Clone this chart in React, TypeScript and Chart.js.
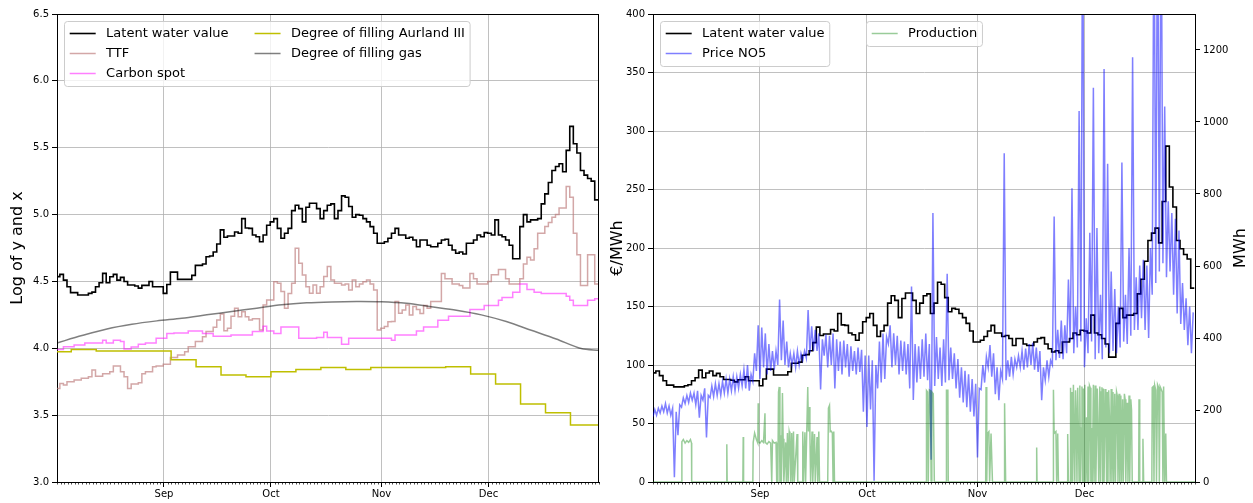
import React, { useEffect, useRef } from "react";
import { Chart, registerables } from "chart.js";

Chart.register(...registerables);

const FONT = "DejaVu Sans";
const W = 1253;
const H = 503;

// ---------- axes / categories ----------
// x is "day number" counted from 1 August (Aug 2 = 1, Sep 1 = 31, ... Jan 1 = 153)
const xMin = 1;
const xMax = 153;
const monthTicks = [31, 61, 92, 122];
const monthLabels = ["Sep", "Oct", "Nov", "Dec"];
const logTicks = [3.0, 3.5, 4.0, 4.5, 5.0, 5.5, 6.0, 6.5];
const eurTicks = [0, 50, 100, 150, 200, 250, 300, 350, 400];
const mwhTicks = [0, 200, 400, 600, 800, 1000, 1200];

// daily series start at this day and advance one day per value
const dailyStart = 0.8;

// ---------- data ----------
// Latent water value, €/MWh (daily)
const latentWaterValue = [
  93.3, 94.9, 90.9, 86.5, 82.8, 82.8, 81.3, 81.3, 81.3, 82.3,
  83.1, 86.5, 89.1, 95.6, 89.1, 93.2, 94.9, 90.9, 92.8, 90.0,
  87.6, 87.6, 87.0, 85.6, 87.4, 87.4, 90.0, 86.5, 86.5, 86.5,
  82.3, 88.0, 96.5, 96.5, 91.4, 91.4, 91.4, 91.4, 94.2, 101.5,
  101.5, 102.5, 108.3, 108.9, 112.2, 119.1, 132.4, 125.2, 126.5, 126.5,
  130.3, 129.0, 144.0, 134.3, 133.9, 127.4, 125.8, 121.1, 127.4, 137.0,
  140.5, 144.0, 133.9, 124.3, 129.0, 133.9, 152.9, 159.2, 155.2, 140.5,
  156.8, 161.6, 161.6, 155.2, 144.0, 152.9, 159.2, 160.8, 144.0, 152.9,
  170.7, 169.0, 157.6, 145.5, 148.4, 147.7, 144.0, 140.5, 135.6, 129.0,
  119.7, 119.7, 121.1, 124.3, 129.0, 133.9, 127.4, 127.4, 124.3, 125.2,
  122.7, 116.7, 122.7, 122.7, 118.0, 116.7, 116.7, 119.7, 122.7, 123.4,
  118.0, 113.9, 111.1, 112.2, 110.5, 119.7, 119.7, 122.7, 127.4, 125.8,
  129.7, 129.0, 127.4, 142.6, 127.4, 125.8, 122.7, 118.0, 106.7, 106.7,
  135.6, 148.4, 140.5, 142.6, 142.6, 144.0, 160.8, 173.3, 188.7, 206.4,
  212.7, 217.0, 204.4, 239.8, 287.1, 252.1, 235.1, 206.4, 199.3, 194.4,
  190.6, 165.7, 165.7,
];

// TTF, log values (daily)
const ttfLog = [
  3.70, 3.737, 3.725, 3.75, 3.75, 3.762, 3.762, 3.775, 3.775, 3.787,
  3.837, 3.79, 3.79, 3.81, 3.81, 3.825, 3.867, 3.867, 3.825, 3.787,
  3.70, 3.732, 3.732, 3.742, 3.81, 3.825, 3.825, 3.862, 3.867, 3.867,
  3.88, 3.88, 3.932, 3.932, 3.95, 3.95, 3.975, 4.012, 4.012, 4.05,
  4.05, 4.087, 4.125, 4.125, 4.157, 4.212, 4.257, 4.132, 4.15, 4.24,
  4.30, 4.236, 4.274, 4.236, 4.212, 4.22, 4.22, 4.137, 4.324, 4.361,
  4.361, 4.498, 4.486, 4.424, 4.30, 4.41, 4.486, 4.748, 4.636, 4.549,
  4.461, 4.411, 4.474, 4.411, 4.461, 4.536, 4.611, 4.511, 4.486, 4.486,
  4.474, 4.48, 4.436, 4.511, 4.461, 4.48, 4.498, 4.511, 4.48, 4.436,
  4.137, 4.15, 4.162, 4.199, 4.20, 4.349, 4.262, 4.287, 4.324, 4.249,
  4.312, 4.29, 4.26, 4.32, 4.30, 4.35, 4.35, 4.35, 4.56, 4.52,
  4.52, 4.48, 4.48, 4.47, 4.45, 4.45, 4.56, 4.52, 4.48, 4.48,
  4.48, 4.50, 4.55, 4.55, 4.59, 4.59, 4.52, 4.48, 4.48, 4.48,
  4.52, 4.63, 4.68, 4.66, 4.745, 4.86, 4.86, 4.91, 4.94, 4.98,
  5.0, 5.05, 5.05, 5.21, 5.13, 4.86, 4.70, 4.47, 4.47, 4.70,
  4.70, 4.48, 4.48,
];

// Carbon spot, log values (daily)
const carbonLog = [
  3.99, 3.99, 4.012, 4.012, 4.012, 4.025, 4.025, 4.025, 4.04, 4.04,
  4.04, 4.04, 4.04, 4.06, 4.04, 4.04, 4.06, 4.06, 4.05, 3.995,
  3.995, 4.01, 4.01, 4.03, 4.03, 4.04, 4.04, 4.04, 4.075, 4.075,
  4.075, 4.11, 4.11, 4.115, 4.115, 4.115, 4.115, 4.13, 4.13, 4.13,
  4.13, 4.11, 4.11, 4.11, 4.09, 4.09, 4.09, 4.09, 4.09, 4.10,
  4.10, 4.10, 4.10, 4.10, 4.10, 4.125, 4.125, 4.125, 4.165, 4.13,
  4.13, 4.11, 4.11, 4.16, 4.16, 4.16, 4.16, 4.16, 4.075, 4.075,
  4.075, 4.075, 4.075, 4.08, 4.08, 4.12, 4.08, 4.08, 4.08, 4.08,
  4.03, 4.03, 4.075, 4.075, 4.075, 4.075, 4.075, 4.075, 4.075, 4.075,
  4.075, 4.075, 4.075, 4.075, 4.06, 4.10, 4.10, 4.10, 4.10, 4.10,
  4.10, 4.13, 4.13, 4.16, 4.16, 4.16, 4.16, 4.21, 4.21, 4.21,
  4.24, 4.24, 4.24, 4.24, 4.24, 4.24, 4.29, 4.29, 4.29, 4.29,
  4.32, 4.32, 4.32, 4.32, 4.36, 4.38, 4.38, 4.38, 4.42, 4.42,
  4.48, 4.48, 4.44, 4.44, 4.42, 4.42, 4.41, 4.41, 4.41, 4.41,
  4.41, 4.41, 4.41, 4.39, 4.36, 4.32, 4.32, 4.32, 4.32, 4.36,
  4.36, 4.37, 4.37,
];

// Degree of filling Aurland III, log values (weekly)
const aurlandDays = [1, 5, 12, 19, 26, 33, 40, 47, 54, 61, 68, 75, 82, 89, 96, 103, 110, 117, 124, 131, 138, 145, 153];
const aurlandLog = [3.975, 3.99, 3.98, 3.98, 3.98, 3.915, 3.862, 3.80, 3.787, 3.825, 3.842, 3.857, 3.842, 3.857, 3.857, 3.857, 3.862, 3.807, 3.733, 3.583, 3.518, 3.426, 3.426];

// Degree of filling gas, log values
const gasDays = [1, 8, 15, 22, 29, 36, 43, 50, 57, 64, 71, 78, 85, 92, 99, 106, 113, 120, 127, 134, 141, 148, 153];
const gasLog = [4.04, 4.095, 4.145, 4.18, 4.205, 4.225, 4.25, 4.275, 4.30, 4.325, 4.34, 4.347, 4.35, 4.348, 4.336, 4.31, 4.285, 4.25, 4.20, 4.135, 4.07, 3.998, 3.985];

// Price NO5, €/MWh: two readings per day (night low, day high), from Aug 2
const priceNO5 = [
  56, 62, 57, 63, 59, 65, 60, 67, 59, 65, 57, 63, 4, 60, 40, 66, 64, 72, 67, 74,
  68, 76, 70, 76, 66, 78, 55, 74, 70, 80, 38, 74, 72, 82, 73, 84, 74, 84, 74, 86,
  76, 88, 76, 88, 78, 90, 78, 90, 80, 92, 82, 96, 80, 100, 78, 92, 86, 110, 95, 134,
  88, 132, 98, 127, 92, 118, 95, 112, 96, 112, 100, 156, 104, 138, 100, 120, 98, 110, 100, 110,
  98, 112, 100, 110, 104, 112, 106, 147, 110, 133, 112, 130, 112, 127, 79, 122, 108, 126, 98, 125,
  100, 127, 80, 122, 95, 120, 92, 121, 98, 118, 90, 116, 95, 112, 92, 115, 94, 113, 60, 108,
  47, 108, 62, 104, 1, 100, 80, 120, 85, 127, 88, 124, 118, 134, 98, 127, 100, 125, 92, 121,
  95, 120, 92, 118, 80, 167, 70, 118, 85, 116, 88, 122, 90, 127, 87, 118, 19, 230, 82, 124,
  88, 115, 82, 122, 85, 178, 87, 115, 88, 110, 80, 105, 72, 98, 68, 95, 64, 92, 60, 88,
  56, 84, 21, 80, 79, 100, 85, 107, 98, 117, 90, 110, 75, 98, 70, 95, 88, 281, 87, 104,
  90, 107, 92, 105, 98, 108, 98, 112, 96, 114, 98, 118, 100, 119, 96, 115, 94, 112, 70, 98,
  87, 104, 90, 104, 100, 227, 104, 130, 106, 138, 105, 134, 110, 173, 120, 251, 110, 150, 115, 317,
  120, 520, 98, 140, 110, 213, 120, 337, 105, 217, 110, 160, 105, 353, 115, 272, 110, 180, 112, 165,
  110, 150, 115, 273, 120, 160, 118, 200, 125, 363, 130, 175, 130, 185, 140, 190, 130, 185, 123, 200,
  160, 520, 170, 520, 180, 520, 187, 321, 175, 240, 180, 230, 160, 225, 144, 215, 135, 170, 130, 157,
  117, 150, 110, 145,
];

// Production, MWh: [day, MWh]
const production: [number, number][] = [
  [1, 0],
  [9.0, 0], [9.1, 112], [9.5, 118], [10.0, 108], [10.5, 115], [11.0, 110], [11.5, 118], [11.8, 108], [11.85, 0],
  [21.6, 0], [21.7, 105], [21.8, 0],
  [26.2, 0], [26.3, 125], [26.4, 0],
  [29.0, 0], [29.1, 110], [29.5, 136], [30.0, 118], [30.4, 108], [30.5, 219], [30.6, 112], [31.0, 108],
  [31.5, 115], [32.0, 110], [32.4, 191], [32.5, 110], [33.0, 105], [33.5, 112], [34.0, 108], [34.3, 0],
  [34.5, 115], [35.0, 108], [35.5, 110], [35.7, 0],
  [36.0, 0], [36.2, 250], [36.4, 264], [36.6, 0], [36.8, 130], [37.0, 0], [37.3, 247], [37.5, 120], [37.7, 0],
  [38.2, 110], [38.4, 0], [38.7, 136], [38.9, 0], [39.2, 140], [39.4, 130], [39.6, 0], [39.9, 136], [40.1, 0],
  [40.4, 140], [40.6, 0], [41.4, 133], [41.6, 0],
  [42.9, 0], [43.0, 140], [43.2, 0], [43.6, 138], [43.8, 0], [44.4, 264], [44.6, 140], [44.8, 208], [45.0, 135],
  [45.2, 0], [45.6, 140], [45.8, 0], [46.3, 133], [46.5, 0], [47.0, 125], [47.2, 0], [47.5, 140], [47.7, 0],
  [50.0, 0], [50.2, 205], [50.5, 213], [50.7, 140], [51.0, 141], [51.3, 136], [51.5, 0], [51.7, 140], [51.9, 0],
  [77.6, 0], [77.7, 254], [78.0, 250], [78.2, 0], [78.5, 256], [78.8, 254], [79.0, 0], [79.2, 250], [79.6, 245], [79.9, 0],
  [83.2, 0], [83.3, 255], [83.7, 255], [83.8, 0],
  [94.3, 0], [94.4, 264], [94.6, 0], [94.8, 135], [95.2, 140], [95.4, 0], [95.8, 135], [96.2, 0],
  [99.5, 0], [99.6, 219], [99.9, 0],
  [108.5, 0], [108.6, 96], [108.7, 0],
  [113.2, 0], [113.3, 256], [113.5, 135], [114.0, 140], [114.2, 0], [114.5, 135], [114.7, 0],
  [117.2, 0], [117.3, 133], [117.5, 0],
  [118.0, 0], [118.1, 262], [118.3, 0], [118.5, 250], [118.7, 0], [118.9, 270], [119.1, 140], [119.3, 0],
  [119.5, 255], [119.7, 180], [119.9, 0], [120.1, 262], [120.3, 140], [120.5, 0], [120.7, 268], [120.9, 0],
  [121.1, 150], [121.3, 265], [121.5, 0], [121.7, 260], [121.9, 0], [122.1, 270], [122.3, 0], [122.6, 180],
  [122.8, 0], [123.0, 265], [123.2, 0], [123.4, 268], [123.6, 262], [123.8, 0], [124.0, 150], [124.2, 0],
  [124.5, 270], [124.7, 0], [125.0, 268], [125.2, 0], [125.4, 137], [125.6, 260], [125.8, 140], [126.0, 0],
  [126.3, 265], [126.5, 0], [126.7, 250], [126.9, 263], [127.1, 0], [127.3, 260], [127.5, 0], [127.8, 258],
  [128.0, 200], [128.2, 0], [128.4, 250], [128.6, 0], [128.8, 255], [129.0, 180], [129.2, 0], [129.5, 258],
  [129.7, 0], [130.0, 250], [130.2, 0], [130.5, 245], [130.7, 0], [131.0, 250], [131.2, 240], [131.4, 0],
  [131.7, 245], [131.9, 0], [132.2, 240], [132.4, 0], [132.7, 230], [132.9, 0], [133.2, 245], [133.4, 230],
  [133.6, 0], [134.0, 220], [134.2, 0], [134.5, 240], [134.7, 0], [135.0, 230], [135.2, 200], [135.4, 0],
  [137.2, 0], [137.3, 230], [137.5, 0], [138.3, 0], [138.4, 120], [138.6, 0],
  [140.9, 0], [141.0, 262], [141.3, 265], [141.5, 0], [141.7, 268], [142.0, 255], [142.2, 0], [142.5, 270],
  [142.8, 262], [143.0, 0], [143.2, 265], [143.5, 258], [143.8, 250], [144.0, 0], [144.2, 265], [144.5, 0],
  [144.8, 135], [145.0, 0],
  [153, 0],
];

// ---------- colours ----------
const C_LWV = "#000000";
const C_TTF = "rgba(188,120,120,0.65)";
const C_CARBON = "rgba(255,0,255,0.5)";
const C_AURLAND = "#bfbf00";
const C_GAS = "rgba(0,0,0,0.5)";
const C_PRICE = "rgba(0,0,255,0.5)";
const C_PROD = "rgba(0,128,0,0.4)";

// ---------- helpers ----------
const daily = (vals: number[]) => vals.map((v, i) => ({ x: dailyStart + i, y: v }));
const paired = (days: number[], vals: number[]) => vals.map((v, i) => ({ x: days[i], y: v }));

type LegendItem = { label: string; color: string; width: number };
type LegendGroup = { align: "left" | "center"; ncol: number; items: LegendItem[] };

function legendPlugin(id: string, groups: LegendGroup[]) {
  return {
    id,
    afterDraw(chart: any) {
      const { ctx, chartArea } = chart;
      const fs = 13;
      const pad = 5.2;
      const hl = 26;
      const htp = 10.4;
      const colsp = 26;
      const rowH = 20;
      ctx.save();
      ctx.font = `${fs}px "${FONT}"`;
      for (const g of groups) {
        const nrow = Math.ceil(g.items.length / g.ncol);
        const cols: LegendItem[][] = [];
        for (let c = 0; c < g.ncol; c++) cols.push(g.items.slice(c * nrow, (c + 1) * nrow));
        const colW = cols.map((col) => hl + htp + Math.max(...col.map((it) => ctx.measureText(it.label).width)));
        const w = pad * 2 + colW.reduce((a, b) => a + b, 0) + colsp * (g.ncol - 1);
        const h = nrow * rowH + 5;
        const left =
          g.align === "left"
            ? Math.round(chartArea.left + 6.5) + 0.5
            : Math.round((chartArea.left + chartArea.right) / 2 - w / 2) + 0.5;
        const top = Math.round(chartArea.top + 6.5) + 0.5;
        ctx.beginPath();
        if (ctx.roundRect) ctx.roundRect(left, top, w, h, 3);
        else ctx.rect(left, top, w, h);
        ctx.fillStyle = "rgba(255,255,255,0.8)";
        ctx.fill();
        ctx.strokeStyle = "#cccccc";
        ctx.lineWidth = 1;
        ctx.stroke();
        let x = left + pad;
        cols.forEach((col, c) => {
          col.forEach((it, r) => {
            const y = top + 12 + r * rowH;
            ctx.beginPath();
            ctx.moveTo(x, y);
            ctx.lineTo(x + hl, y);
            ctx.strokeStyle = it.color;
            ctx.lineWidth = it.width;
            ctx.stroke();
            ctx.fillStyle = "#000";
            ctx.textBaseline = "middle";
            ctx.textAlign = "left";
            ctx.fillText(it.label, x + hl + htp, y + 0.5);
          });
          x += colW[c] + colsp;
        });
      }
      ctx.restore();
    },
  };
}

function framePlugin(id: string, rightSpine: boolean, rightTitle?: string) {
  return {
    id,
    afterDatasetsDraw(chart: any) {
      const { ctx, chartArea } = chart;
      const { left, right, top, bottom } = chartArea;
      ctx.save();
      ctx.strokeStyle = "#000";
      ctx.lineWidth = 1;
      ctx.beginPath();
      ctx.moveTo(left, Math.round(top) + 0.5);
      ctx.lineTo(right, Math.round(top) + 0.5);
      if (rightSpine) {
        ctx.moveTo(Math.round(right) - 0.5, top);
        ctx.lineTo(Math.round(right) - 0.5, bottom);
      }
      ctx.stroke();
      // daily minor ticks
      const xs = chart.scales.x;
      ctx.lineWidth = 0.7;
      ctx.beginPath();
      for (let d = Math.ceil(xs.min); d <= xs.max; d++) {
        if (monthTicks.includes(d)) continue;
        const px = Math.round(xs.getPixelForValue(d)) + 0.5;
        ctx.moveTo(px, bottom);
        ctx.lineTo(px, bottom + 2.5);
      }
      ctx.stroke();
      ctx.restore();
    },
    afterDraw(chart: any) {
      if (!rightTitle) return;
      const { ctx, chartArea } = chart;
      ctx.save();
      ctx.font = `16px "${FONT}"`;
      ctx.fillStyle = "#000";
      ctx.textAlign = "center";
      ctx.textBaseline = "middle";
      ctx.translate(1241, (chartArea.top + chartArea.bottom) / 2);
      ctx.rotate(-Math.PI / 2);
      ctx.fillText(rightTitle, 0, 0);
      ctx.restore();
    },
  };
}

const tickFont = { family: FONT, size: 10 };

function xAxis() {
  return {
    type: "linear" as const,
    min: xMin,
    max: xMax,
    afterBuildTicks: (s: any) => {
      s.ticks = monthTicks.map((v) => ({ value: v }));
    },
    afterFit: (s: any) => {
      s.height = 21;
    },
    ticks: {
      autoSkip: false,
      maxRotation: 0,
      padding: 1,
      font: tickFont,
      color: "#000",
      callback: (v: any) => {
        const i = monthTicks.indexOf(Number(v));
        return i >= 0 ? monthLabels[i] : "";
      },
    },
    grid: { color: "#b0b0b0", lineWidth: 0.8, tickLength: 5, tickColor: "#000", tickWidth: 1 },
    border: { color: "#000", width: 1 },
  };
}

function leftConfig(): any {
  return {
    type: "line",
    data: {
      datasets: [
        { label: "Latent water value", data: daily(latentWaterValue.map((v) => Math.log(v))), borderColor: C_LWV, borderWidth: 1.6, stepped: true, pointRadius: 0, order: 5 },
        { label: "TTF", data: daily(ttfLog), borderColor: C_TTF, borderWidth: 1.5, stepped: true, pointRadius: 0, order: 4 },
        { label: "Carbon spot", data: daily(carbonLog), borderColor: C_CARBON, borderWidth: 1.5, stepped: true, pointRadius: 0, order: 3 },
        { label: "Degree of filling Aurland III", data: paired(aurlandDays, aurlandLog), borderColor: C_AURLAND, borderWidth: 1.5, stepped: true, pointRadius: 0, order: 2 },
        { label: "Degree of filling gas", data: paired(gasDays, gasLog), borderColor: C_GAS, borderWidth: 1.5, pointRadius: 0, tension: 0.3, order: 1 },
      ],
    },
    options: {
      responsive: false,
      animation: false,
      devicePixelRatio: 1,
      events: [],
      layout: { padding: { left: 0, right: W - 599, top: 14, bottom: 0 } },
      plugins: { legend: { display: false }, tooltip: { enabled: false } },
      scales: {
        x: xAxis(),
        y: {
          min: 3,
          max: 6.5,
          afterBuildTicks: (s: any) => {
            s.ticks = logTicks.map((v) => ({ value: v }));
          },
          afterFit: (s: any) => {
            s.width = 57;
          },
          ticks: { font: tickFont, color: "#000", padding: 3, callback: (v: any) => Number(v).toFixed(1) },
          title: { display: true, text: "Log of y and x", font: { family: FONT, size: 16 }, color: "#000", padding: { top: 8, bottom: 0 } },
          grid: { color: "#b0b0b0", lineWidth: 0.8, tickLength: 5, tickColor: "#000", tickWidth: 1 },
          border: { color: "#000", width: 1 },
        },
      },
    },
    plugins: [
      framePlugin("frameLeft", true),
      legendPlugin("legendLeft", [
        {
          align: "left",
          ncol: 2,
          items: [
            { label: "Latent water value", color: C_LWV, width: 1.6 },
            { label: "TTF", color: C_TTF, width: 1.5 },
            { label: "Carbon spot", color: C_CARBON, width: 1.5 },
            { label: "Degree of filling Aurland III", color: C_AURLAND, width: 1.5 },
            { label: "Degree of filling gas", color: C_GAS, width: 1.5 },
          ],
        },
      ]),
    ],
  };
}

function rightConfig(): any {
  return {
    type: "line",
    data: {
      datasets: [
        { label: "Latent water value", data: daily(latentWaterValue), borderColor: C_LWV, borderWidth: 1.6, stepped: true, pointRadius: 0, yAxisID: "y", order: 3 },
        { label: "Price NO5", data: priceNO5.map((v, i) => ({ x: 1 + i * 0.5, y: v })), borderColor: C_PRICE, borderWidth: 1.5, pointRadius: 0, yAxisID: "y", order: 2 },
        { label: "Production", data: production.map(([d, v]) => ({ x: d, y: v })), borderColor: C_PROD, borderWidth: 1.5, pointRadius: 0, yAxisID: "y1", order: 1 },
      ],
    },
    options: {
      responsive: false,
      animation: false,
      devicePixelRatio: 1,
      events: [],
      layout: { padding: { left: 607, right: 0, top: 14, bottom: 0 } },
      plugins: { legend: { display: false }, tooltip: { enabled: false } },
      scales: {
        x: xAxis(),
        y: {
          position: "left",
          min: 0,
          max: 400,
          afterBuildTicks: (s: any) => {
            s.ticks = eurTicks.map((v) => ({ value: v }));
          },
          afterFit: (s: any) => {
            s.width = 46;
          },
          ticks: { font: tickFont, color: "#000", padding: 3, callback: (v: any) => String(v) },
          title: { display: true, text: "€/MWh", font: { family: FONT, size: 16 }, color: "#000", padding: { top: 1, bottom: 0 } },
          grid: { color: "#b0b0b0", lineWidth: 0.8, tickLength: 5, tickColor: "#000", tickWidth: 1 },
          border: { color: "#000", width: 1 },
        },
        y1: {
          position: "right",
          min: 0,
          max: 1300,
          afterBuildTicks: (s: any) => {
            s.ticks = mwhTicks.map((v) => ({ value: v }));
          },
          afterFit: (s: any) => {
            s.width = 58;
          },
          ticks: { font: tickFont, color: "#000", padding: 3, callback: (v: any) => String(v) },
          grid: { drawOnChartArea: false, tickLength: 5, tickColor: "#000", tickWidth: 1 },
          border: { color: "#000", width: 1 },
        },
      },
    },
    plugins: [
      framePlugin("frameRight", false, "MWh"),
      legendPlugin("legendRight", [
        {
          align: "left",
          ncol: 1,
          items: [
            { label: "Latent water value", color: C_LWV, width: 1.6 },
            { label: "Price NO5", color: C_PRICE, width: 1.5 },
          ],
        },
        { align: "center", ncol: 1, items: [{ label: "Production", color: C_PROD, width: 1.5 }] },
      ]),
    ],
  };
}

export default function App() {
  const leftRef = useRef<HTMLCanvasElement>(null);
  const rightRef = useRef<HTMLCanvasElement>(null);

  useEffect(() => {
    Chart.defaults.font.family = FONT;
    const c1 = new Chart(leftRef.current as HTMLCanvasElement, leftConfig());
    const c2 = new Chart(rightRef.current as HTMLCanvasElement, rightConfig());
    return () => {
      c1.destroy();
      c2.destroy();
    };
  }, []);

  const canvasStyle: React.CSSProperties = { position: "absolute", left: 0, top: 0, width: W, height: H };
  return (
    <div style={{ position: "fixed", left: 0, top: 0, width: W, height: H, background: "#ffffff" }}>
      <canvas ref={leftRef} width={W} height={H} style={canvasStyle} />
      <canvas ref={rightRef} width={W} height={H} style={canvasStyle} />
    </div>
  );
}
